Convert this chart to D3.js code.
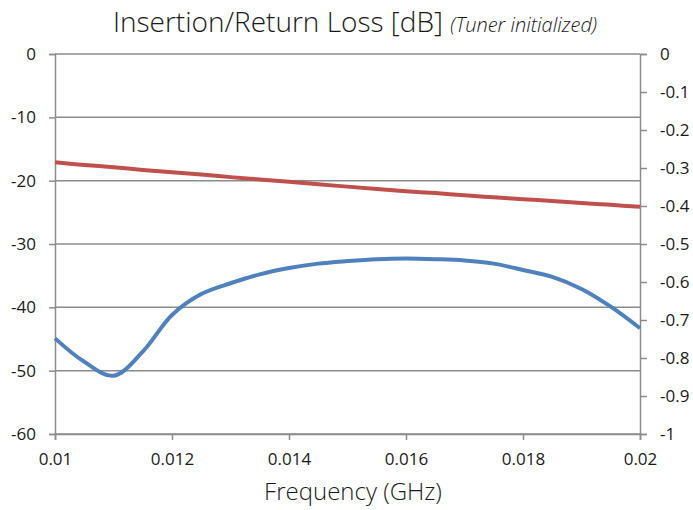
<!DOCTYPE html>
<html>
<head>
<meta charset="utf-8">
<script src="https://cdn.jsdelivr.net/npm/d3@7"></script>
<style>
  body { margin: 0; background: #fff; }
  text { font-family: "Open Sans", sans-serif; fill: #1a1a1a; }
</style>
</head>
<body>
<div id="chart"></div>
<script>

// frequency points (GHz)
var freq = [0.0100, 0.0105, 0.0110, 0.0115, 0.0120, 0.0125, 0.0130, 0.0135, 0.0140, 0.0145,
            0.0150, 0.0155, 0.0160, 0.0165, 0.0170, 0.0175, 0.0180, 0.0185, 0.0190, 0.0195, 0.0200];

// return loss, left axis (dB)
var returnLoss = [-44.9, -48.6, -50.8, -47.0, -41.2, -37.9, -36.2, -34.8, -33.8, -33.1,
                  -32.7, -32.4, -32.3, -32.4, -32.6, -33.1, -34.1, -35.2, -37.1, -39.9, -43.3];

// insertion loss, right axis (dB)
var insertionLoss = [-0.285, -0.292, -0.298, -0.305, -0.311, -0.317, -0.324, -0.330, -0.336, -0.343,
                     -0.349, -0.355, -0.361, -0.366, -0.372, -0.377, -0.382, -0.387, -0.392, -0.397, -0.402];

var xTicks = [0.01, 0.012, 0.014, 0.016, 0.018, 0.02];
var leftTicks = [0, -10, -20, -30, -40, -50, -60];
var rightTicks = [0, -0.1, -0.2, -0.3, -0.4, -0.5, -0.6, -0.7, -0.8, -0.9, -1];

function createChart(){

  var margin = {top: 54, right: 53, bottom: 76, left: 55},
      width = 693 - margin.left - margin.right,
      height = 510 - margin.top - margin.bottom;

  var svg = d3.select("#chart").append("svg")
      .attr("width", 693)
      .attr("height", 510);

  var g = svg.append("g")
      .attr("transform", "translate(" + margin.left + "," + margin.top + ")");

  var x = d3.scaleLinear().domain([0.01, 0.02]).range([0, width]);
  var yL = d3.scaleLinear().domain([-60, 0]).range([height, 0]);
  var yR = d3.scaleLinear().domain([-1, 0]).range([height, 0]);

  var grey = "#8c8c8c";
  // plain hyphen minus, like the original
  var plain = function(d) { return String(d); };

  // horizontal gridlines
  g.selectAll(".grid")
      .data(leftTicks)
    .enter().append("line")
      .attr("x1", 0).attr("x2", width)
      .attr("y1", function(d) { return yL(d); })
      .attr("y2", function(d) { return yL(d); })
      .attr("stroke", grey)
      .attr("stroke-width", 1.5);

  // left axis
  var left = g.append("g")
      .call(d3.axisLeft(yL).tickValues(leftTicks).tickSize(6).tickPadding(13).tickFormat(plain));

  // right axis
  var right = g.append("g")
      .attr("transform", "translate(" + width + ",0)")
      .call(d3.axisRight(yR).tickValues(rightTicks).tickSize(7).tickPadding(13).tickFormat(plain));

  // bottom axis
  var bottom = g.append("g")
      .attr("transform", "translate(0," + height + ")")
      .call(d3.axisBottom(x).tickValues(xTicks).tickSize(6).tickPadding(13).tickFormat(plain));

  [left, right, bottom].forEach(function(a) {
    a.select(".domain").attr("stroke", grey).attr("stroke-width", 1.5);
    a.selectAll(".tick line").attr("stroke", grey).attr("stroke-width", 1.5);
    a.selectAll(".tick text").style("font-size", "17px").attr("fill", "#111");
  });

  // lines
  var rlLine = d3.line()
      .x(function(d, i) { return x(freq[i]); })
      .y(function(d) { return yL(d); })
      .curve(d3.curveCatmullRom);

  var ilLine = d3.line()
      .x(function(d, i) { return x(freq[i]); })
      .y(function(d) { return yR(d); })
      .curve(d3.curveCatmullRom);

  g.append("path")
      .datum(insertionLoss)
      .attr("d", ilLine)
      .attr("fill", "none")
      .attr("stroke", "#c0504d")
      .attr("stroke-width", 4);

  g.append("path")
      .datum(returnLoss)
      .attr("d", rlLine)
      .attr("fill", "none")
      .attr("stroke", "#4f81bd")
      .attr("stroke-width", 4);

  // title
  var title = svg.append("text")
      .attr("x", 355)
      .attr("y", 32)
      .style("text-anchor", "middle");
  title.append("tspan")
      .style("font-size", "28px")
      .style("font-weight", 300)
      .text("Insertion/Return Loss [dB] ");
  title.append("tspan")
      .style("font-size", "20px")
      .style("font-style", "italic")
      .style("font-weight", 300)
      .text("(Tuner initialized)");

  // x axis label
  svg.append("text")
      .attr("x", 353)
      .attr("y", 500)
      .style("text-anchor", "middle")
      .style("font-size", "24px")
      .style("font-weight", 300)
      .text("Frequency (GHz)");
}

createChart();
</script>
</body>
</html>
